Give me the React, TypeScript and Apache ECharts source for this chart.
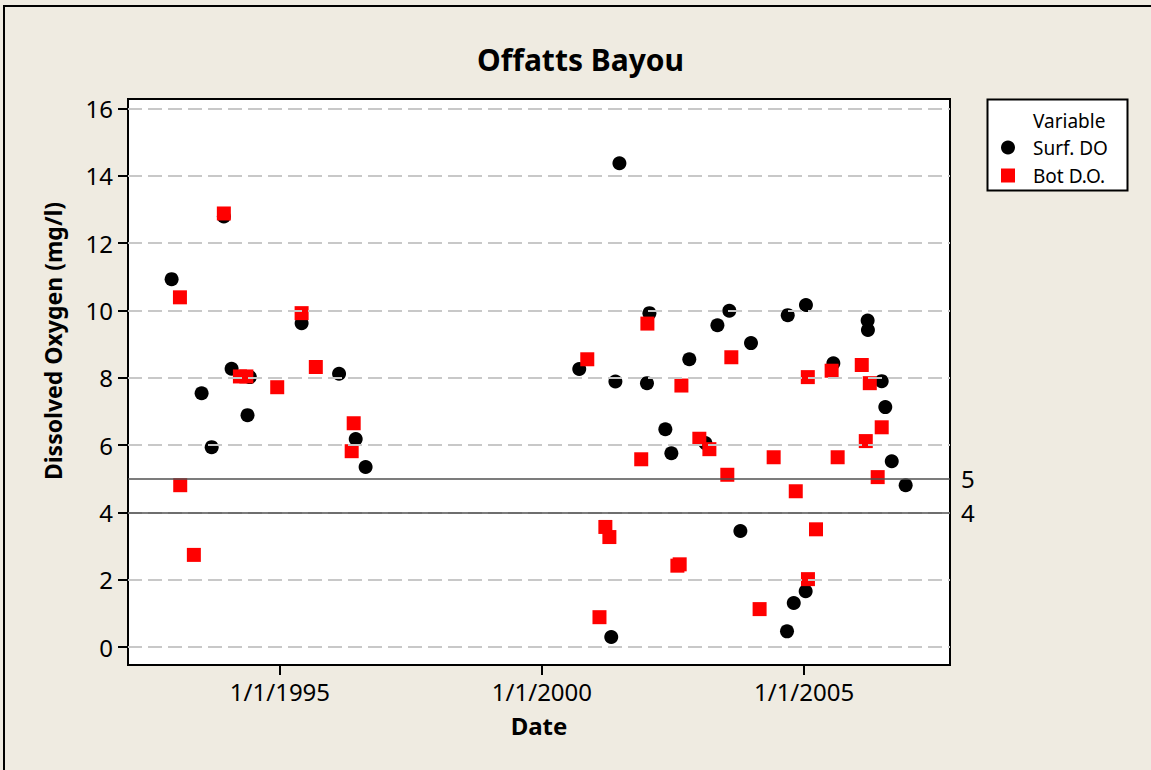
import { useEffect, useRef } from "react";
import * as echarts from "echarts";

const surfDates = [
  "1992-12-07", "1993-07-04", "1993-09-12", "1993-12-06", "1994-01-29", "1994-05-20",
  "1994-06-05", "1995-06-01", "1996-02-17", "1996-06-12", "1996-08-20",
  "2000-09-17", "2001-04-28", "2001-05-27", "2001-06-24", "2002-01-02", "2002-01-19",
  "2002-05-10", "2002-06-21", "2002-10-24", "2003-02-13", "2003-05-08", "2003-07-30",
  "2003-10-15", "2003-12-28", "2004-09-04", "2004-09-09", "2004-10-21", "2005-01-12",
  "2005-01-14", "2005-07-24", "2006-03-20", "2006-03-22", "2006-06-26", "2006-07-21",
  "2006-09-04", "2006-12-10",
];
const surfValues = [
  10.93, 7.54, 5.94, 12.79, 8.27, 6.89,
  8.02, 9.62, 8.12, 6.18, 5.35,
  8.26, 0.3, 7.89, 14.37, 7.84, 9.92,
  6.47, 5.76, 8.55, 6.06, 9.56, 9.99,
  3.45, 9.03, 0.47, 9.86, 1.31, 1.66,
  10.16, 8.43, 9.7, 9.42, 7.9, 7.13,
  5.52, 4.81,
];

const botDates = [
  "1993-02-03", "1993-02-05", "1993-05-11", "1993-12-06", "1994-03-28", "1994-05-12",
  "1994-12-13", "1995-06-01", "1995-09-08", "1996-05-15", "1996-05-29",
  "2000-11-12", "2001-02-05", "2001-03-18", "2001-04-15", "2001-11-23", "2002-01-05",
  "2002-08-02", "2002-08-18", "2002-08-30", "2003-01-02", "2003-03-13", "2003-07-16",
  "2003-08-13", "2004-02-26", "2004-06-03", "2004-11-04", "2005-01-27", "2005-01-28",
  "2005-03-25", "2005-07-12", "2005-08-23", "2006-02-07", "2006-03-07", "2006-04-04",
  "2006-05-29", "2006-06-26",
];
const botValues = [
  10.39, 4.81, 2.74, 12.88, 8.04, 8.04,
  7.72, 9.92, 8.32, 5.82, 6.65,
  8.55, 0.89, 3.57, 3.27, 5.58, 9.61,
  2.42, 2.46, 7.77, 6.19, 5.88, 5.12,
  8.61, 1.13, 5.64, 4.63, 8.02, 2.02,
  3.5, 8.21, 5.64, 8.38, 6.12, 7.84,
  5.05, 6.53,
];

const yTicks = [0, 2, 4, 6, 8, 10, 12, 14, 16];
const xTicks = ["1995-01-01", "2000-01-01", "2005-01-01"];
const xRange = ["1992-02-07", "2007-10-15"];
const refLines = [5, 4];

const FONT = "'Noto Sans', sans-serif";
const ts = (d: string) => Date.parse(d + "T00:00:00Z");

export default function App() {
  const ref = useRef<HTMLDivElement>(null);

  useEffect(() => {
    const chart = echarts.init(ref.current!, null, { renderer: "svg" });
    chart.setOption({
      animation: false,
      backgroundColor: "#EFEBE1",
      textStyle: { fontFamily: FONT },
      title: {
        text: "Offatts Bayou",
        left: 477,
        top: 44,
        padding: 0,
        textStyle: { fontSize: 30, fontWeight: "bold", color: "#000", fontFamily: FONT },
      },
      grid: {
        left: 128,
        top: 99,
        width: 822,
        height: 566,
        show: true,
        backgroundColor: "#ffffff",
        borderColor: "#000",
        borderWidth: 2,
      },
      xAxis: {
        type: "value",
        min: ts(xRange[0]),
        max: ts(xRange[1]),
        name: "Date",
        nameLocation: "middle",
        nameGap: 48,
        nameTextStyle: { fontSize: 24, fontWeight: "bold", color: "#000", fontFamily: FONT },
        axisLine: { show: true, onZero: false, lineStyle: { color: "#000", width: 2 } },
        axisTick: { show: true, length: 10, customValues: xTicks.map(ts), lineStyle: { color: "#000", width: 2 } },
        axisLabel: {
          customValues: xTicks.map(ts),
          margin: 14,
          fontSize: 24,
          color: "#000",
          fontFamily: FONT,
          formatter: (v: number) => {
            const d = new Date(v);
            return `${d.getUTCMonth() + 1}/${d.getUTCDate()}/${d.getUTCFullYear()}`;
          },
        },
        splitLine: { show: false },
      },
      yAxis: {
        type: "value",
        min: -0.53,
        max: 16.28,
        axisLine: { show: true, onZero: false, lineStyle: { color: "#000", width: 2 } },
        axisTick: { show: true, length: 10, customValues: yTicks, lineStyle: { color: "#000", width: 2 } },
        axisLabel: { customValues: yTicks, margin: 15, fontSize: 24, color: "#000", fontFamily: FONT },
        splitLine: { show: false },
      },
      legend: {
        data: [
          { name: "Surf. DO", icon: "circle" },
          { name: "Bot D.O.", icon: "rect" },
        ],
        orient: "vertical",
        left: 1001,
        top: 138,
        padding: 0,
        itemWidth: 14,
        itemHeight: 14,
        itemGap: 9,
        z: 10,
        selectedMode: false,
        textStyle: { fontSize: 19, color: "#000", fontFamily: FONT, padding: [0, 0, 0, 13] },
      },
      graphic: [
        {
          type: "rect",
          z: 1,
          shape: { x: 987.5, y: 99.5, width: 140, height: 91 },
          style: { fill: "#ffffff", stroke: "#000", lineWidth: 2 },
        },
        {
          type: "text",
          z: 11,
          x: 1033,
          y: 121,
          style: { text: "Variable", font: `19px ${FONT}`, fill: "#000", verticalAlign: "middle", align: "left" },
        },
        {
          type: "text",
          z: 11,
          x: 53,
          y: 341,
          rotation: Math.PI / 2,
          style: {
            text: "Dissolved Oxygen (mg/l)",
            font: `bold 23px ${FONT}`,
            fill: "#000",
            align: "center",
            verticalAlign: "middle",
          },
        },
        {
          type: "rect",
          z: 100,
          silent: true,
          shape: { x: 4, y: 6, width: 1400, height: 1000 },
          style: { fill: "none", stroke: "#000", lineWidth: 2 },
        },
      ],
      series: [
        {
          name: "gridlines",
          type: "scatter",
          data: [],
          z: 1,
          silent: true,
          markLine: {
            silent: true,
            symbol: "none",
            label: { show: false },
            emphasis: { disabled: true },
            lineStyle: { color: "#C8C8C8", width: 2, type: [14, 6] },
            data: yTicks.map((v) => ({ yAxis: v })),
          },
        },
        {
          name: "reference",
          type: "scatter",
          data: [],
          z: 2,
          silent: true,
          markLine: {
            silent: true,
            symbol: "none",
            emphasis: { disabled: true },
            lineStyle: { color: "#505050", width: 1.5, type: "solid" },
            label: {
              show: true,
              position: "end",
              distance: 11,
              fontSize: 24,
              color: "#000",
              fontFamily: FONT,
              formatter: (p: any) => String(p.value),
            },
            data: refLines.map((v) => ({ yAxis: v })),
          },
        },
        {
          name: "Surf. DO",
          type: "scatter",
          symbol: "circle",
          symbolSize: 14,
          z: 3,
          itemStyle: { color: "#000000", opacity: 1 },
          data: surfDates.map((d, i) => [ts(d), surfValues[i]]),
        },
        {
          name: "Bot D.O.",
          type: "scatter",
          symbol: "rect",
          symbolSize: 14,
          z: 4,
          itemStyle: { color: "#FF0000", opacity: 1 },
          data: botDates.map((d, i) => [ts(d), botValues[i]]),
        },
      ],
    });
    return () => chart.dispose();
  }, []);

  return <div ref={ref} style={{ position: "fixed", left: 0, top: 0, width: 1151, height: 770 }} />;
}
